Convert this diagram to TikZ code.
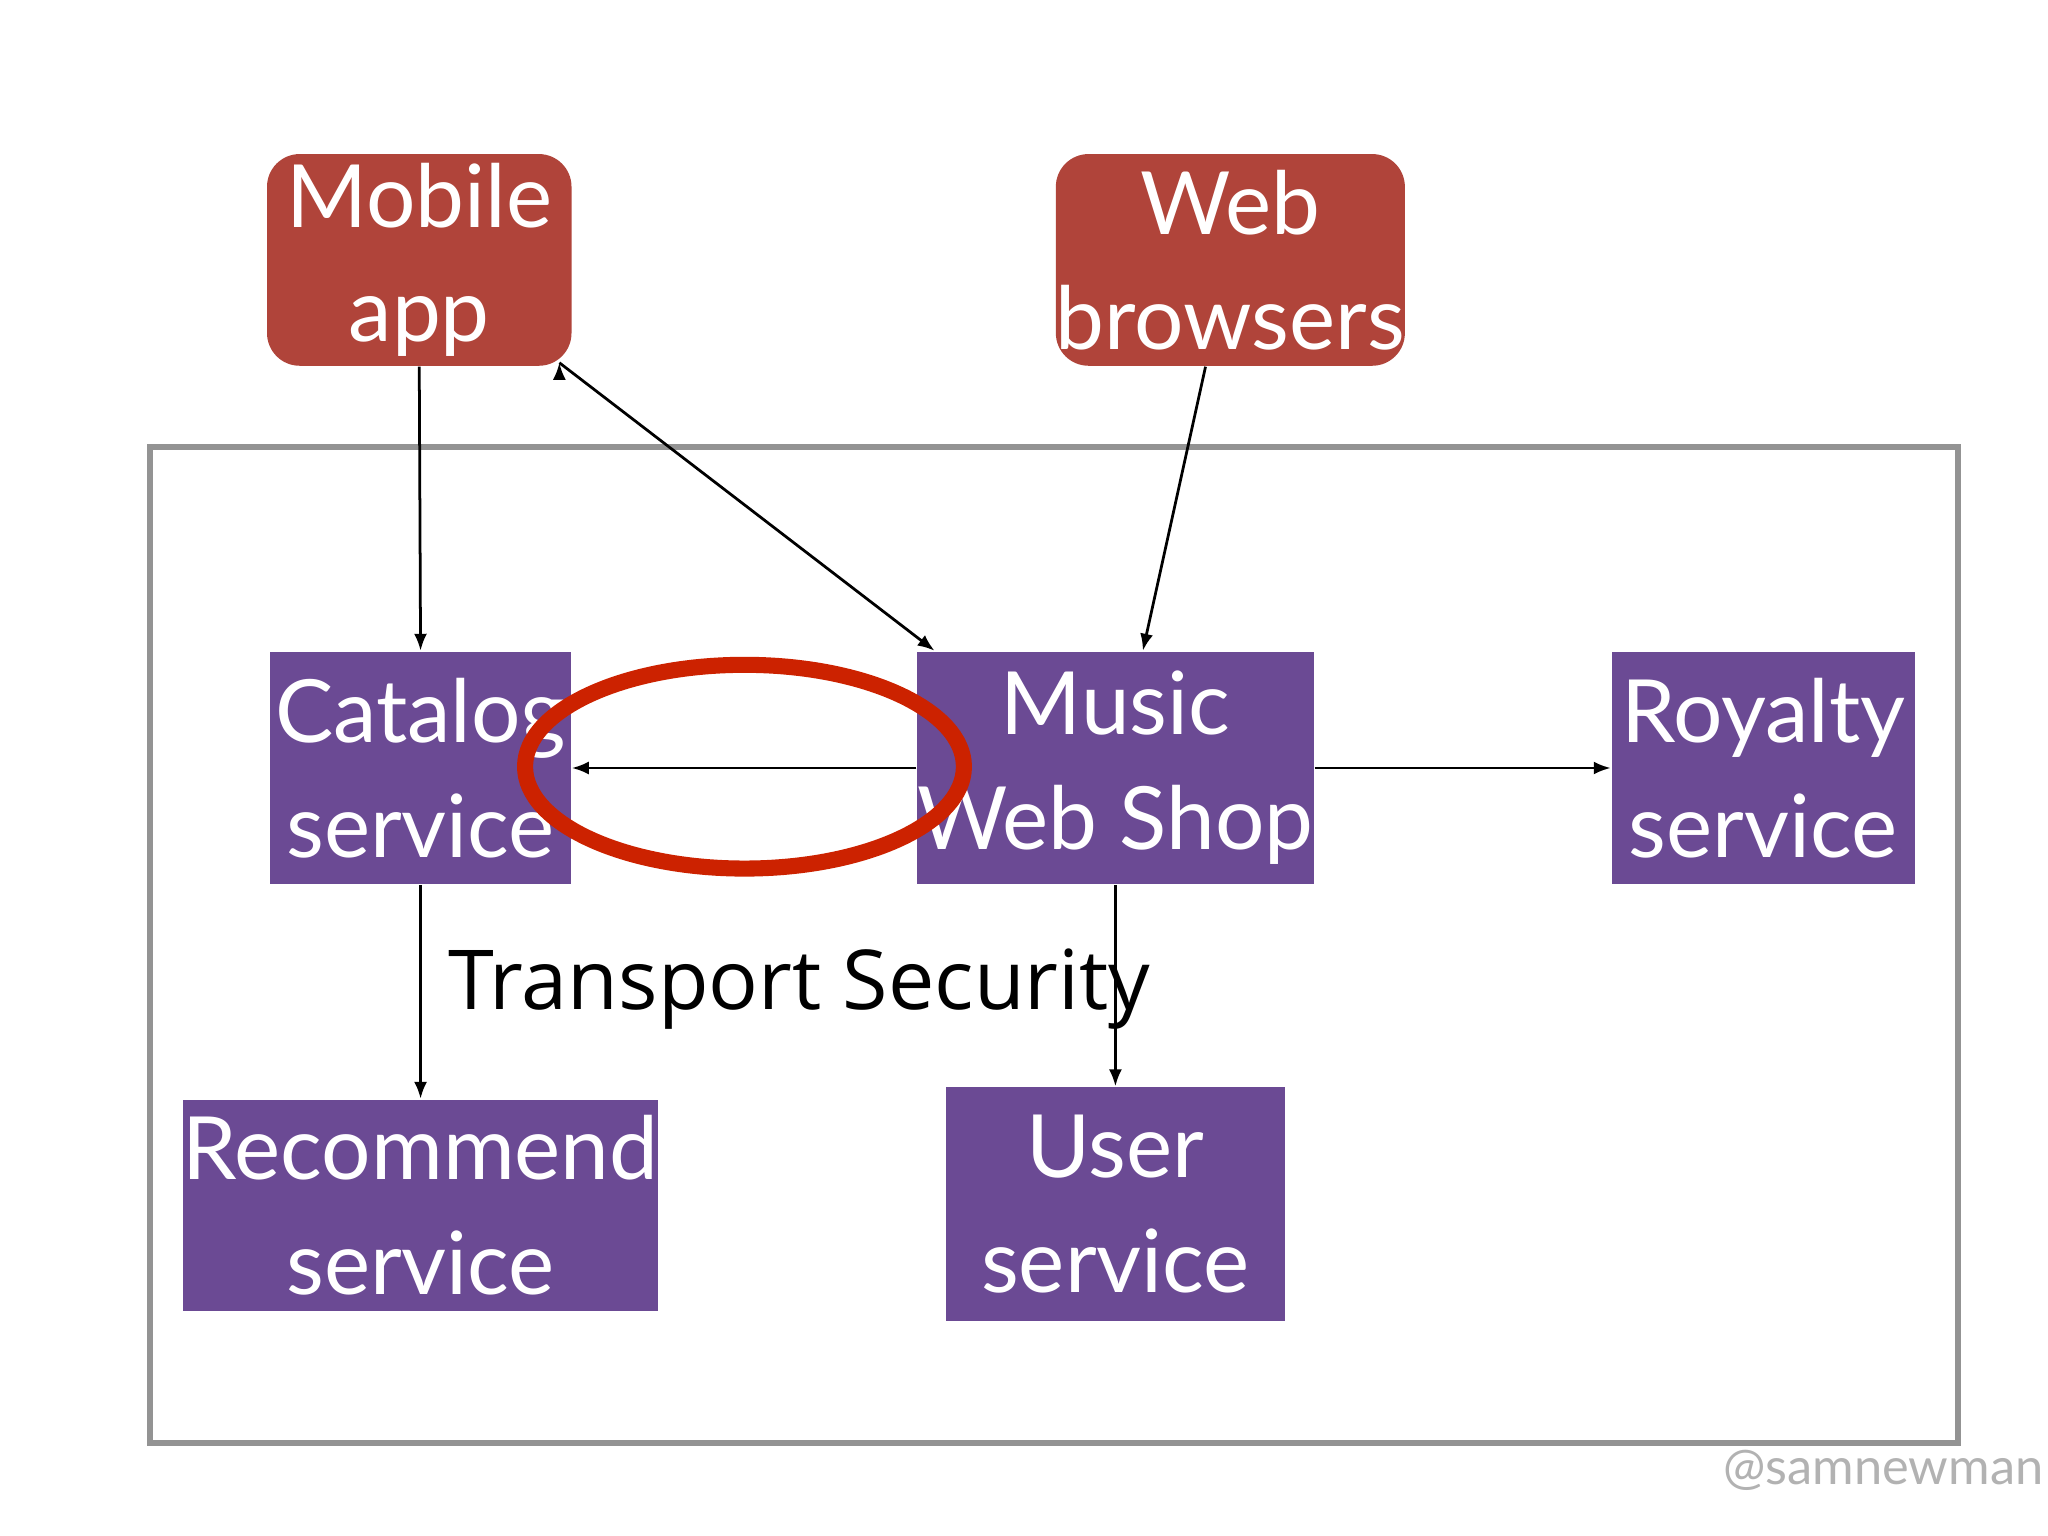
\documentclass[tikz,border=0pt]{standalone}
\usepackage{fontspec}
\setmainfont{Lato}
\newfontfamily\tsfont{Open Sans}
\usetikzlibrary{arrows.meta}
\definecolor{redbox}{HTML}{B0443A}
\definecolor{purp}{HTML}{6B4A94}
\definecolor{ring}{HTML}{CC2200}
\tikzset{
 client/.style={fill=redbox,rounded corners=0.25cm,text=white,align=center,font=\fontsize{19}{25}\selectfont,inner sep=0},
 svc/.style={fill=purp,text=white,align=center,font=\fontsize{19}{25}\selectfont,inner sep=0},
 arr/.style={-{Latex[length=0.13cm,width=0.1cm]},line width=0.6pt}
}
\begin{document}
\begin{tikzpicture}[x=0.01cm,y=-0.01cm]
\useasboundingbox (0,0) rectangle (1568,1176);
\draw[line width=1.3pt,color=gray!85] (115,342) rectangle (1499,1105);
\node[client,minimum width=2.33cm,minimum height=1.62cm] (mob) at (321,199) {Mobile\\app};
\node[client,minimum width=2.58cm,minimum height=1.62cm] (web) at (942,199) {Web\\browsers};
\node[svc,minimum width=2.30cm,minimum height=1.78cm] (cat) at (322,588) {Catalog\\service};
\node[svc,minimum width=2.74cm,minimum height=1.78cm] (mus) at (854,588) {Music\\Web Shop};
\node[svc,minimum width=2.32cm,minimum height=1.78cm] (roy) at (1350,588) {Royalty\\service};
\node[svc,minimum width=3.25cm,minimum height=1.62cm] (rec) at (322,923) {Recommend\\service};
\node[svc,minimum width=2.59cm,minimum height=1.79cm] (usr) at (854,922) {User\\service};
\draw[line width=3.5pt,color=ring] (570,587) ellipse [x radius=168,y radius=78];
\node[font=\tsfont\fontsize{18}{22}\selectfont] (ts) at (612,757) {Transport Security};
\node[font=\fontsize{11}{13}\selectfont,text=gray!60] (sig) at (1442,1126) {@samnewman};
\draw[arr] (mob.south) -- (cat.north);
\draw[arr] (mob.south east) ++(-10,-3) coordinate (m1) ;
\draw[arr] (m1) -- ([xshift=0.14cm]mus.north west);
\draw[arr] ([xshift=-0.19cm]web.south) -- ([xshift=0.21cm]mus.north);
\draw[arr] (mus.west) -- (cat.east);
\draw[arr] (mus.east) -- (roy.west);
\draw[arr] (cat.south) -- (rec.north);
\draw[arr] (mus.south) -- (usr.north);
\end{tikzpicture}
\end{document}
